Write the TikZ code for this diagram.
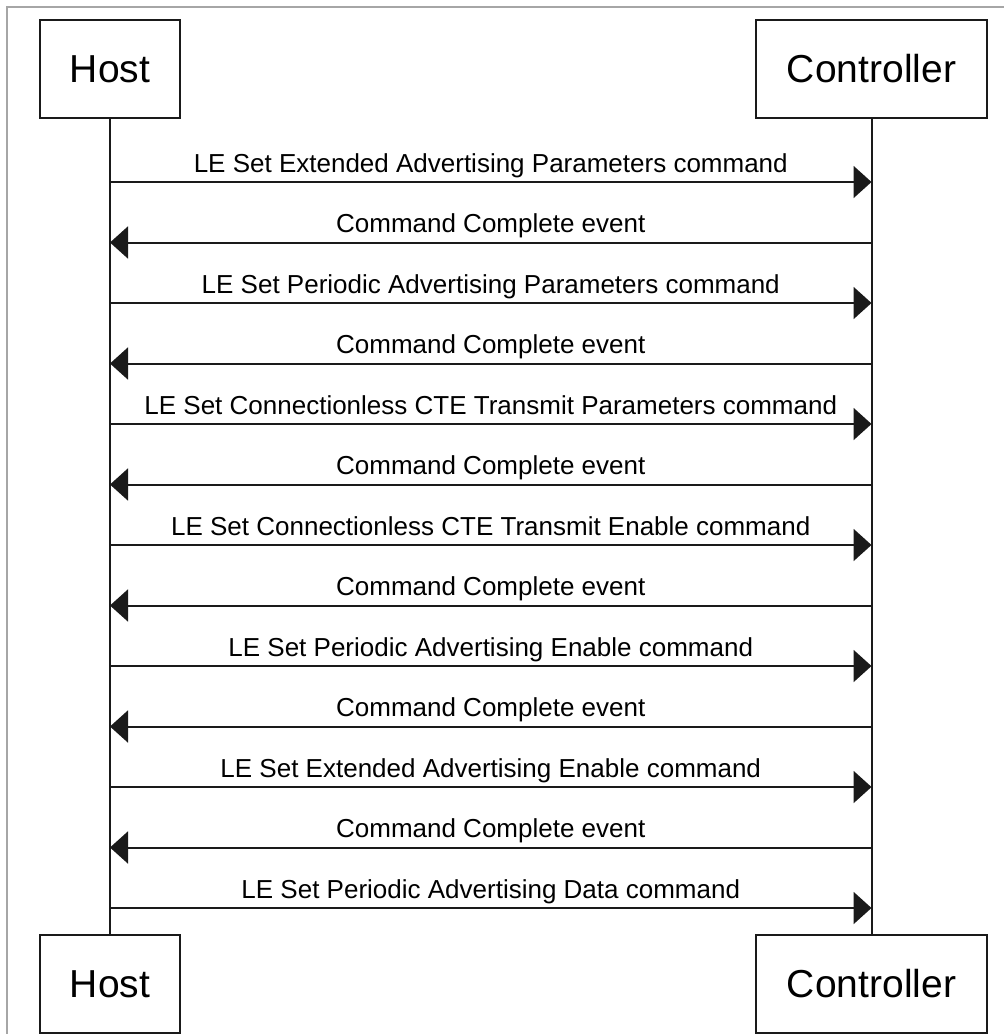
\documentclass[tikz,border=0pt]{standalone}
\usepackage{fontspec}
\setmainfont{Liberation Sans}
\usetikzlibrary{arrows.meta,positioning}
\definecolor{framegray}{HTML}{A6A6A6}
\definecolor{linedark}{HTML}{1A1A1A}
\tikzset{
  actorbox/.style={draw=linedark, line width=2pt, minimum height=98pt, inner sep=0pt, font=\fontsize{39}{47}\selectfont},
  lifeline/.style={linedark, line width=2pt},
  message/.style={linedark, line width=2pt, -{Triangle[length=18pt,width=32pt]}},
  msglabel/.style={anchor=base, yshift=10pt, inner sep=0pt, text=black, font=\fontsize{26}{31}\selectfont},
  outerframe/.style={framegray, line width=2pt}
}
\begin{document}
\begin{tikzpicture}[x=1pt, y=-1pt]
  \useasboundingbox (0,0) rectangle (1004,1034);
  \draw[outerframe] (7,1040) -- (7,7) -- (1010,7);
  % actors
  \node[actorbox, minimum width=140pt] (hosttop) at (110,69) {Host};
  \node[actorbox, minimum width=231pt] (ctrltop) at (871.5,69) {Controller};
  \node[actorbox, minimum width=140pt] (hostbot) at (110,984) {Host};
  \node[actorbox, minimum width=231pt] (ctrlbot) at (871.5,984) {Controller};
  \draw[lifeline] (hosttop) -- (hostbot);
  \draw[lifeline] (ctrltop) -- (ctrlbot);
  % message rows
  \foreach \i in {0,...,12}{
    \pgfmathsetmacro{\yy}{182+60.5*\i}
    \coordinate (h\i) at (110,\yy);
    \coordinate (c\i) at (871.5,\yy);
  }
  \foreach \i/\txt in {0/LE Set Extended Advertising Parameters command,
                       2/LE Set Periodic Advertising Parameters command,
                       4/LE Set Connectionless CTE Transmit Parameters command,
                       6/LE Set Connectionless CTE Transmit Enable command,
                       8/LE Set Periodic Advertising Enable command,
                       10/LE Set Extended Advertising Enable command,
                       12/LE Set Periodic Advertising Data command}{
    \draw[message] (h\i) -- (c\i) node[msglabel, midway] {\txt};
  }
  \foreach \i in {1,3,...,11}{
    \draw[message] (c\i) -- (h\i) node[msglabel, midway] {Command Complete event};
  }
\end{tikzpicture}
\end{document}
